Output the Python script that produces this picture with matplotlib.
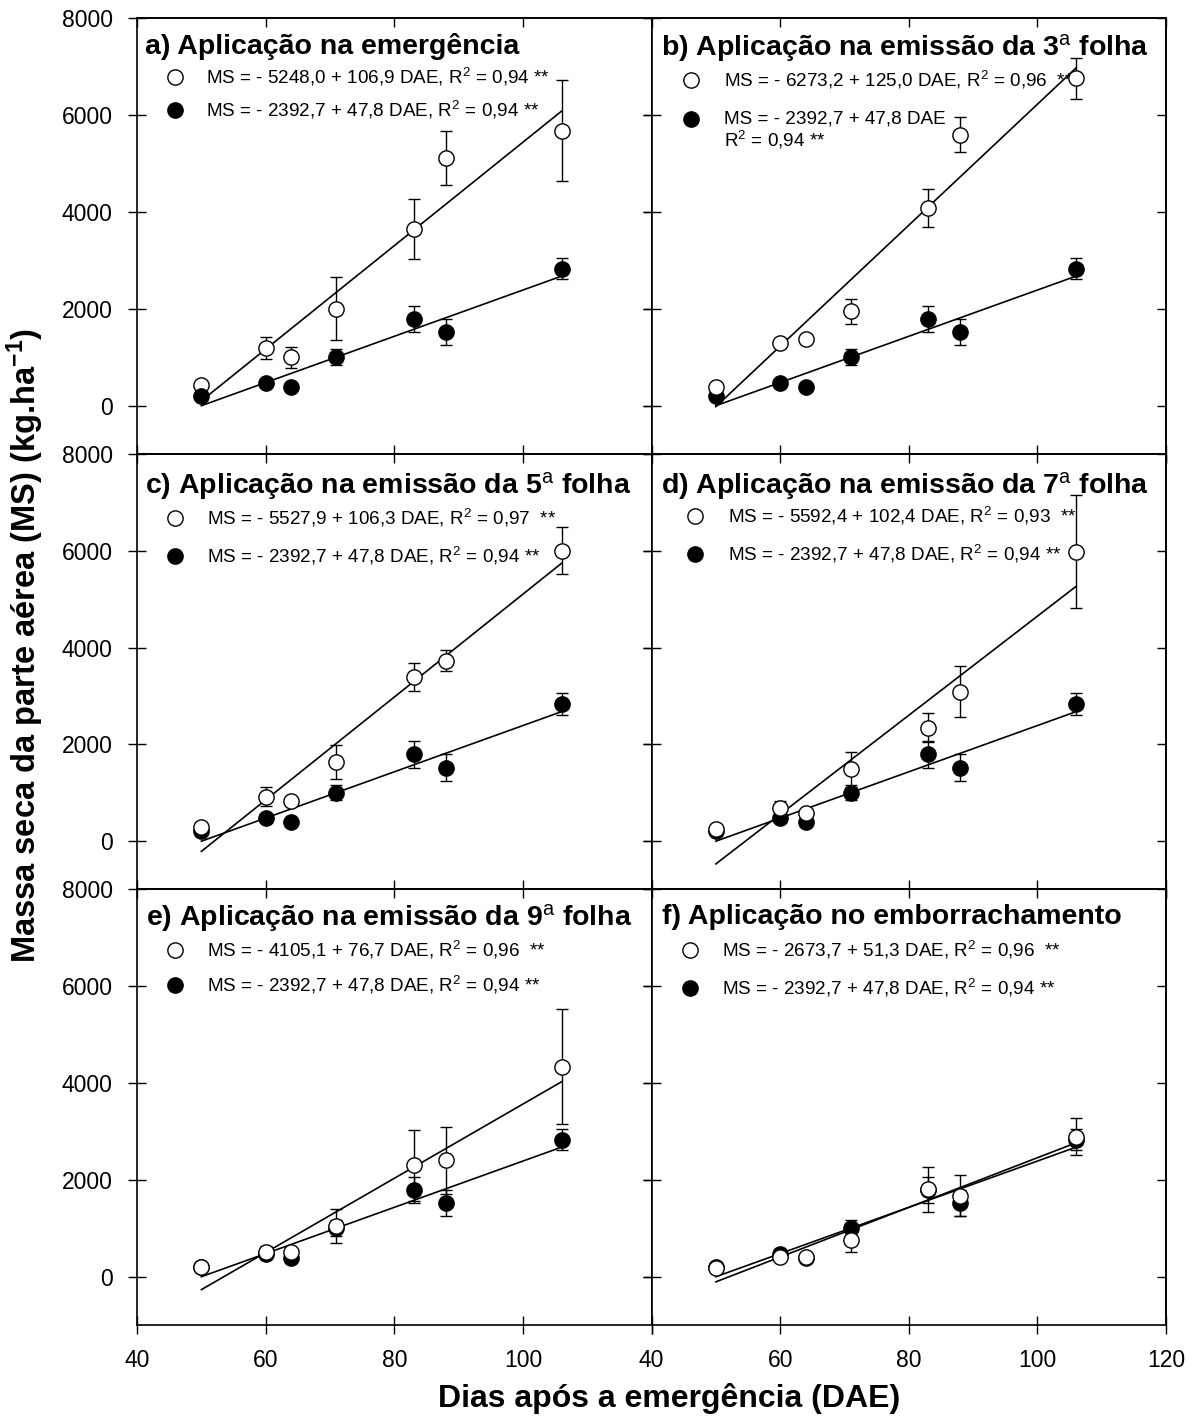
import numpy as np
import matplotlib.pyplot as plt

plt.rcParams['font.family'] = ['Liberation Sans', 'DejaVu Sans']
plt.rcParams['mathtext.fontset'] = 'custom'
plt.rcParams['mathtext.rm'] = 'Liberation Sans'
plt.rcParams['mathtext.it'] = 'Liberation Sans:italic'
plt.rcParams['mathtext.bf'] = 'Liberation Sans:bold'

# Dias após a emergência
dae = np.array([50, 60, 64, 71, 83, 88, 106])

# testemunha (círculos cheios) - a mesma em todos os painéis
ms_fill = [200, 470, 390, 1000, 1790, 1520, 2830]
err_fill = [40, 60, 40, 160, 270, 270, 220]
coef_fill = (-2392.7, 47.8)
lab_fill = "MS = - 2392,7 + 47,8 DAE, R$^2$ = 0,94 **"

# tratamentos (círculos abertos)
ms_a = [420, 1190, 1000, 2000, 3650, 5120, 5680]
err_a = [60, 220, 220, 650, 620, 560, 1040]
ms_b = [380, 1290, 1370, 1950, 4080, 5600, 6760]
err_b = [50, 60, 80, 260, 400, 370, 420]
ms_c = [300, 920, 820, 1640, 3400, 3730, 6000]
err_c = [50, 200, 60, 350, 290, 210, 490]
ms_d = [240, 680, 570, 1480, 2340, 3090, 5980]
err_d = [40, 150, 60, 360, 300, 530, 1170]
ms_e = [200, 510, 510, 1050, 2300, 2400, 4340]
err_e = [40, 120, 60, 350, 730, 700, 1180]
ms_f = [180, 410, 410, 750, 1800, 1670, 2890]
err_f = [40, 60, 40, 240, 470, 420, 380]

coefs = [(-5248.0, 106.9), (-6273.2, 125.0), (-5527.9, 106.3),
         (-5592.4, 102.4), (-4105.1, 76.7), (-2673.7, 51.3)]

titulos = ["a) Aplicação na emergência",
           "b) Aplicação na emissão da 3$^{\\rm a}$ folha",
           "c) Aplicação na emissão da 5$^{\\rm a}$ folha",
           "d) Aplicação na emissão da 7$^{\\rm a}$ folha",
           "e) Aplicação na emissão da 9$^{\\rm a}$ folha",
           "f) Aplicação no emborrachamento"]

lab_open = ["MS = - 5248,0 + 106,9 DAE, R$^2$ = 0,94 **",
            "MS = - 6273,2 + 125,0 DAE, R$^2$ = 0,96  **",
            "MS = - 5527,9 + 106,3 DAE, R$^2$ = 0,97  **",
            "MS = - 5592,4 + 102,4 DAE, R$^2$ = 0,93  **",
            "MS = - 4105,1 + 76,7 DAE, R$^2$ = 0,96  **",
            "MS = - 2673,7 + 51,3 DAE, R$^2$ = 0,96  **"]

ms_open = [ms_a, ms_b, ms_c, ms_d, ms_e, ms_f]
err_open = [err_a, err_b, err_c, err_d, err_e, err_f]

xticks = [40, 60, 80, 100, 120]
yticks = [0, 2000, 4000, 6000, 8000]

# posições (em coordenadas do eixo) do título e da legenda
tit_pos = [(0.016, 0.935), (0.018, 0.931), (0.016, 0.927),
           (0.018, 0.927), (0.017, 0.935), (0.020, 0.937)]
leg_mk = [0.073, 0.076, 0.073, 0.085, 0.073, 0.074]
leg_tx = [0.134, 0.140, 0.135, 0.148, 0.135, 0.137]
leg_y = [(0.865, 0.789), (0.858, 0.770), (0.854, 0.766),
         (0.858, 0.770), (0.862, 0.781), (0.860, 0.774)]

MS = 11
fig, axes = plt.subplots(3, 2, figsize=(11.99, 14.18), dpi=100)
fig.subplots_adjust(left=0.1143, right=0.9725, bottom=0.0656, top=0.987,
                    wspace=0, hspace=0)

xx = np.array([dae[0], dae[-1]])
for i, ax in enumerate(axes.flat):
    row, col = divmod(i, 2)
    a, b = coefs[i]
    ax.errorbar(dae, ms_fill, yerr=err_fill, fmt='none', ecolor='k',
                elinewidth=1, capsize=4.2, capthick=1, zorder=2)
    ax.errorbar(dae, ms_open[i], yerr=err_open[i], fmt='none', ecolor='k',
                elinewidth=1, capsize=4.2, capthick=1, zorder=2)
    ax.plot(xx, coef_fill[0] + coef_fill[1] * xx, 'k-', lw=1.2, zorder=3)
    ax.plot(xx, a + b * xx, 'k-', lw=1.2, zorder=3)
    # no painel a) os cheios ficam por cima
    zf, zo = (5, 4) if i == 0 else (4, 5)
    ax.plot(dae, ms_fill, 'o', mfc='k', mec='k', ms=MS, zorder=zf)
    ax.plot(dae, ms_open[i], 'o', mfc='w', mec='k', mew=1, ms=MS, zorder=zo)

    ax.set_xlim(40, 120)
    ax.set_ylim(-1000, 8000)
    ax.set_xticks(xticks)
    ax.set_yticks(yticks)
    ax.tick_params(direction='inout', length=13, width=1, labelsize=16.5)
    ax.tick_params(axis='y', pad=11)
    ax.tick_params(axis='x', pad=11)
    for s in ax.spines.values():
        s.set_linewidth(1.2)
    if col == 1:
        ax.tick_params(labelleft=False)
    if row < 2:
        ax.tick_params(labelbottom=False)
    elif col == 0:
        ax.set_xticklabels(['40', '60', '80', '100', ''])

    # marcas internas em cima e à direita
    top = ax.secondary_xaxis('top')
    top.set_xticks(xticks)
    top.tick_params(direction='in', length=6.5, width=1, labeltop=False)
    right = ax.secondary_yaxis('right')
    right.set_yticks(yticks)
    right.tick_params(direction='in', length=6.5, width=1, labelright=False)
    for sec in (top, right):
        for s in sec.spines.values():
            s.set_linewidth(1.2)

    tx, ty = tit_pos[i]
    ax.text(tx, ty, titulos[i], transform=ax.transAxes, fontsize=20.5,
            fontweight='bold', va='center', ha='left')

    y1, y2 = leg_y[i]
    ax.plot([leg_mk[i]], [y1], 'o', mfc='w', mec='k', mew=1, ms=MS,
            transform=ax.transAxes, clip_on=False)
    ax.plot([leg_mk[i]], [y2], 'o', mfc='k', mec='k', ms=MS,
            transform=ax.transAxes, clip_on=False)
    ax.text(leg_tx[i], y1, lab_open[i], transform=ax.transAxes,
            fontsize=13.6, va='center')
    if i == 1:
        ax.text(leg_tx[i], y2, "MS = - 2392,7 + 47,8 DAE", transform=ax.transAxes,
                fontsize=13.6, va='center')
        ax.text(leg_tx[i], 0.720, "R$^2$ = 0,94 **", transform=ax.transAxes,
                fontsize=13.6, va='center')
    else:
        ax.text(leg_tx[i], y2, lab_fill, transform=ax.transAxes,
                fontsize=13.6, va='center')

fig.text(0.021, 0.545, "Massa seca da parte aérea (MS) (kg.ha$^{\\mathbf{-1}}$)",
         rotation=90, fontsize=23.5, fontweight='bold', ha='center', va='center')
fig.text(0.558, 0.014, "Dias após a emergência (DAE)", fontsize=23,
         fontweight='bold', ha='center', va='center')

fig.savefig("out.png", dpi=100)
